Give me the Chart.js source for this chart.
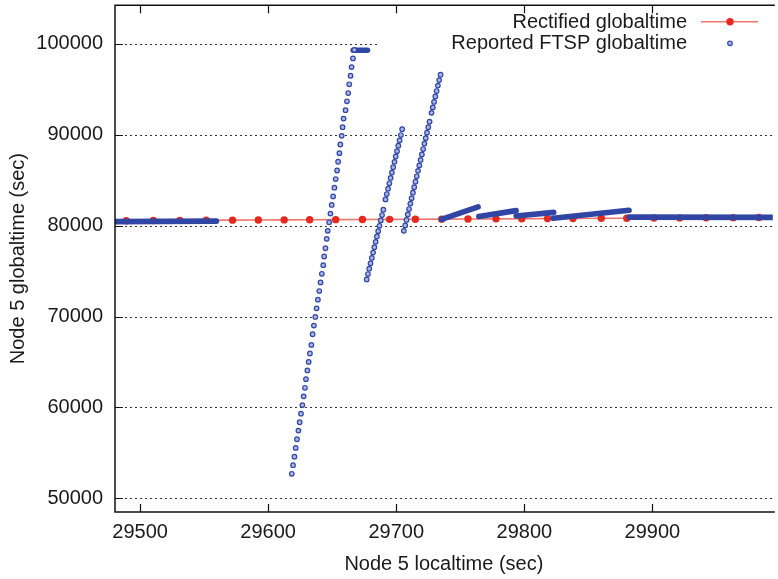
<!DOCTYPE html>
<html><head><meta charset="utf-8">
<script src="https://cdn.jsdelivr.net/npm/chart.js@4/dist/chart.umd.min.js"></script>
<style>html,body{margin:0;padding:0;background:#fff;overflow:hidden}#wrap{width:778px;height:579px;position:relative}</style>
</head><body><div id="wrap"><canvas id="c" width="778" height="579"></canvas></div>
<script>
// ---- data ----
const xTicks = [29500, 29600, 29700, 29800, 29900, 30000];
const yTicks = [50000, 60000, 70000, 80000, 90000, 100000];
const seriesLabels = ['Rectified globaltime', 'Reported FTSP globaltime'];

// Rectified globaltime (red)
const rectX = [29489.2, 29510.3, 29531.0, 29551.6, 29572.2, 29592.3, 29612.5, 29632.4, 29652.7, 29673.6, 29694.8, 29714.9, 29735.5, 29756.0, 29777.9, 29798.0, 29818.1, 29838.0, 29860.1, 29880.0, 29901.2, 29921.3, 29942.0, 29963.1, 29983.2];
const rectY = [80540, 80555, 80570, 80585, 80600, 80615, 80625, 80640, 80655, 80670, 80685, 80700, 80710, 80725, 80740, 80755, 80770, 80785, 80800, 80815, 80830, 80845, 80860, 80875, 80890];

// Reported FTSP globaltime: sparse ramps (blue rings)
const ramp1X = [29618.4, 29619.4, 29620.5, 29621.5, 29622.5, 29623.6, 29624.6, 29625.6, 29626.7, 29627.7, 29628.7, 29629.5, 29630.6, 29631.6, 29632.6, 29633.7, 29634.7, 29635.7, 29636.8, 29637.8, 29638.8, 29639.9, 29640.9, 29641.9, 29643.0, 29643.7, 29644.7, 29645.7, 29646.5, 29647.6, 29648.6, 29649.6, 29650.7, 29651.7, 29652.7, 29653.8, 29654.6, 29655.6, 29656.3, 29657.4, 29658.1, 29658.9, 29660.4, 29661.5, 29662.5, 29663.3, 29664.3, 29665.1, 29666.2, 29667.2];
const ramp1Y = [52700, 53650, 54590, 55550, 56500, 57450, 58370, 59310, 60260, 61220, 62160, 63110, 64070, 65010, 65930, 66880, 68050, 69000, 69950, 70900, 71850, 72800, 73750, 74700, 75650, 76600, 77510, 78540, 79420, 80360, 81320, 82270, 83210, 84170, 85120, 86060, 87020, 87970, 88920, 89870, 90820, 91770, 92690, 93670, 94580, 95540, 96480, 97430, 98390, 99330];
const ramp2X = [29676.9, 29677.9, 29678.9, 29679.9, 29680.9, 29681.9, 29682.9, 29683.9, 29684.9, 29685.9, 29686.9, 29687.9, 29688.9, 29689.9, 29691.6, 29692.6, 29693.6, 29694.6, 29695.6, 29696.6, 29697.6, 29698.6, 29699.6, 29700.6, 29701.6, 29702.6, 29703.6, 29704.6];
const ramp2Y = [74080, 74670, 75260, 75850, 76440, 77030, 77620, 78210, 78800, 79390, 79980, 80570, 81160, 81750, 82880, 83470, 84060, 84650, 85240, 85830, 86420, 87010, 87600, 88190, 88780, 89370, 89960, 90600];
const ramp3X = [29705.9, 29707.0, 29708.0, 29709.0, 29710.0, 29711.0, 29712.0, 29713.0, 29714.0, 29715.0, 29716.0, 29717.0, 29718.0, 29719.0, 29720.0, 29721.0, 29722.0, 29723.0, 29724.0, 29725.0, 29726.0, 29727.5, 29728.5, 29729.5, 29730.5, 29731.5, 29732.5, 29733.5, 29734.6];
const ramp3Y = [79420, 80020, 80620, 81220, 81820, 82420, 83020, 83620, 84220, 84820, 85420, 86020, 86620, 87220, 87820, 88420, 89020, 89620, 90220, 90820, 91420, 92400, 93000, 93600, 94200, 94800, 95400, 96000, 96590];

// Reported FTSP globaltime: dense runs (points so close they form a solid band) - start/end of each run
const denseStartX = [29480.4, 29666.4, 29735.3, 29764.5, 29793.6, 29822.5, 29881.8];
const denseStartY = [80440, 99280, 80690, 80990, 81064, 80800, 80930];
const denseEndX   = [29559.6, 29677.5, 29763.9, 29793.6, 29823.0, 29881.8, 30000];
const denseEndY   = [80490, 99280, 82050, 81645, 81458, 81678, 80900];

// ---- build ----
const zip = (xs, ys) => xs.map((x, i) => ({x, y: ys[i]}));
const FONT = '"Liberation Sans", Arial, Helvetica, sans-serif';
const RED_LINE = 'rgba(236,84,72,0.8)', RED_DOT = '#e42a1f';
const BLUE = '#3145a5', BLUE_FILL = '#aab6ea';

const datasets = [
  {label: seriesLabels[0], data: zip(rectX, rectY), showLine: true, borderColor: RED_LINE, borderWidth: 1.6,
   pointRadius: 3.7, pointBackgroundColor: RED_DOT, pointBorderWidth: 0, order: 5},
  {label: seriesLabels[1], data: zip(ramp1X.concat(ramp2X, ramp3X), ramp1Y.concat(ramp2Y, ramp3Y)), showLine: false,
   pointRadius: 2.3, pointBorderWidth: 1.2, pointBorderColor: BLUE, pointBackgroundColor: BLUE_FILL, order: 1}
];
denseStartX.forEach((x, i) => {
  datasets.push({label: seriesLabels[1], dense: true,
    data: [{x, y: denseStartY[i]}, {x: denseEndX[i], y: denseEndY[i]}],
    showLine: true, borderColor: BLUE, borderWidth: 5.6, borderCapStyle: 'round',
    pointRadius: 0, order: 2});
});

const framePlugin = {
  id: 'frame',
  beforeDatasetsDraw(chart) {
    const {ctx, chartArea: a, scales: {y}} = chart;
    ctx.save();
    ctx.strokeStyle = '#333'; ctx.lineWidth = 1; ctx.setLineDash([2, 3]);
    yTicks.forEach(v => {
      const py = Math.round(y.getPixelForValue(v)) + 0.5;
      ctx.beginPath(); ctx.moveTo(a.left, py); ctx.lineTo(a.right, py); ctx.stroke();
    });
    ctx.restore();
  },
  afterDatasetsDraw(chart) {
    const {ctx, chartArea: a, scales: {x, y}} = chart;
    // legend
    ctx.save();
    ctx.fillStyle = '#fff';
    ctx.fillRect(378, a.top + 1.5, 394, 52);
    ctx.font = '20px ' + FONT; ctx.fillStyle = '#1a1a1a';
    ctx.textAlign = 'right'; ctx.textBaseline = 'middle';
    ctx.fillText(seriesLabels[0], 687, 22);
    ctx.fillText(seriesLabels[1], 687, 43.5);
    ctx.strokeStyle = RED_LINE; ctx.lineWidth = 1.6;
    ctx.beginPath(); ctx.moveTo(701, 21.7); ctx.lineTo(758, 21.7); ctx.stroke();
    ctx.fillStyle = RED_DOT; ctx.beginPath(); ctx.arc(730, 21.7, 3.7, 0, Math.PI * 2); ctx.fill();
    ctx.fillStyle = BLUE_FILL; ctx.strokeStyle = BLUE; ctx.lineWidth = 1.2;
    ctx.beginPath(); ctx.arc(730, 43.3, 2.3, 0, Math.PI * 2); ctx.fill(); ctx.stroke();
    ctx.restore();
    // frame + inner ticks
    ctx.save();
    ctx.strokeStyle = '#111'; ctx.lineWidth = 1.5; ctx.setLineDash([]);
    ctx.beginPath();
    ctx.moveTo(a.right + 2, a.top); ctx.lineTo(a.left, a.top); ctx.lineTo(a.left, a.bottom); ctx.lineTo(a.right + 2, a.bottom);
    ctx.stroke();
    ctx.lineWidth = 1.2;
    ctx.beginPath();
    xTicks.forEach(v => {
      const px = Math.round(x.getPixelForValue(v)) + 0.5;
      if (px > a.right + 1) return;
      ctx.moveTo(px, a.bottom); ctx.lineTo(px, a.bottom - 8);
      ctx.moveTo(px, a.top); ctx.lineTo(px, a.top + 8);
    });
    yTicks.forEach(v => {
      const py = Math.round(y.getPixelForValue(v)) + 0.5;
      ctx.moveTo(a.left, py); ctx.lineTo(a.left + 8, py);
    });
    ctx.stroke();
    ctx.restore();
  }
};

new Chart(document.getElementById('c'), {
  type: 'scatter',
  data: {datasets},
  options: {
    responsive: false, animation: false, devicePixelRatio: 1,
    layout: {padding: {top: 3, right: 0, left: 0, bottom: 0}},
    plugins: {legend: {display: false}, tooltip: {enabled: false}},
    scales: {
      x: {type: 'linear', min: 29480.4, max: 29994,
        afterFit: s => { s.height = 67; s.paddingLeft = 0; s.paddingRight = 0; },
        afterBuildTicks: s => { s.ticks = xTicks.filter(v => v >= s.min && v <= s.max).map(v => ({value: v})); },
        grid: {display: false, drawTicks: false}, border: {display: false},
        ticks: {font: {family: FONT, size: 20}, color: '#1a1a1a', padding: 8, maxRotation: 0, autoSkip: false, callback: v => String(v)},
        title: {display: true, text: 'Node 5 localtime (sec)', font: {family: FONT, size: 20}, color: '#1a1a1a', padding: {top: 0, bottom: 3}}
      },
      y: {type: 'linear', min: 48500, max: 104240,
        afterFit: s => { s.width = 115; s.paddingTop = 0; s.paddingBottom = 0; },
        afterBuildTicks: s => { s.ticks = yTicks.map(v => ({value: v})); },
        grid: {display: false, drawTicks: false}, border: {display: false},
        ticks: {font: {family: FONT, size: 20}, color: '#1a1a1a', padding: 12, autoSkip: false, callback: v => String(v)},
        title: {display: true, text: 'Node 5 globaltime (sec)', font: {family: FONT, size: 20}, color: '#1a1a1a', padding: {top: 6, bottom: 0}}
      }
    }
  },
  plugins: [framePlugin]
});
</script>
</body></html>
